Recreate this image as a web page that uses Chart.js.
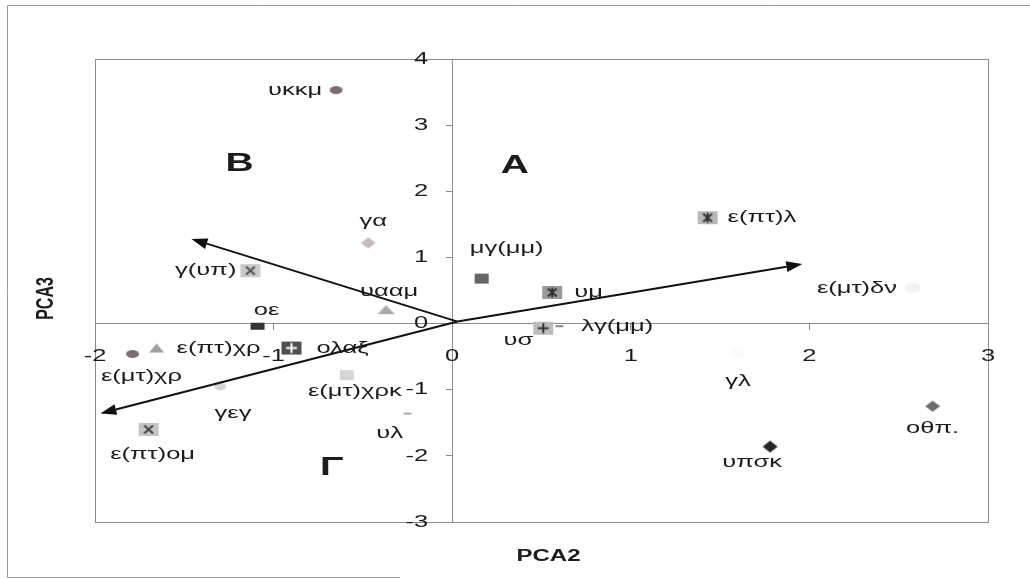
<!DOCTYPE html>
<html>
<head>
<meta charset="utf-8">
<script src="https://cdn.jsdelivr.net/npm/chart.js@4"></script>
<style>
  body { margin: 0; background: #fff; }
  #wrap { width: 1030px; height: 579px; }
</style>
</head>
<body>
<div id="wrap"><canvas id="pca"></canvas></div>
<script>
'use strict';

// scores on the 2nd and 3rd principal components
let names = ['υκκμ', 'γα', 'γ(υπ)', 'υααμ', 'οε', 'ε(πτ)χρ', 'ε(μτ)χρ', 'ολαξ', 'ε(μτ)χρκ', 'γεγ',
  'υλ', 'ε(πτ)ομ', 'μγ(μμ)', 'υμ', 'υσ', 'λγ(μμ)', 'ε(πτ)λ', 'ε(μτ)δν', 'γλ', 'οθπ.', 'υπσκ'];
let pca2 = [-0.65, -0.47, -1.13, -0.37, -1.09, -1.655, -1.79, -0.90, -0.59, -1.30,
  -0.25, -1.70, 0.165, 0.56, 0.51, 0.60, 1.43, 2.58, 1.60, 2.69, 1.78];
let pca3 = [3.53, 1.22, 0.80, 0.21, -0.04, -0.37, -0.46, -0.37, -0.78, -0.95,
  -1.36, -1.60, 0.68, 0.47, -0.07, -0.04, 1.60, 0.54, -0.45, -1.25, -1.86];

let xTicks = [-2, -1, 0, 1, 2, 3];
let yTicks = [-3, -2, -1, 0, 1, 2, 3, 4];

// variable loadings drawn as arrows from the origin
let arrowX = [-1.46, 1.96, -1.97];
let arrowY = [1.28, 0.90, -1.36];

// quadrant names
let quadNames = ['A', 'B', 'Γ'];
let quadX = [0.35, -1.19, -0.675];
let quadY = [2.39, 2.42, -2.18];

// text is drawn a bit wider than normal
const SX = 1.5;
const FONT = '"Liberation Sans", Arial, sans-serif';

// where each name sits next to its point: align, dx, dy
let labelPos = [
  ['r', -14, 0], ['c', 5, -22], ['r', -14, 0], ['c', 3, -18], ['c', 9, -16],
  ['l', 20, 0], ['c', 9, 22], ['l', 25, 0], ['c', 8, 16], ['c', 13, 27],
  ['c', -18, 20], ['c', 4, 25], ['c', 25, -30], ['l', 22, 0], ['c', -25, 12],
  ['l', 22, 0], ['l', 20, 0], ['r', -16, 0], ['c', 0, 28], ['c', 0, 22], ['c', -18, 16]
];

function mark(kind, w, h, fg, bg) {
  let c = document.createElement('canvas');
  c.width = w + 2;
  c.height = h + 2;
  let g = c.getContext('2d');
  let cx = c.width / 2, cy = c.height / 2;
  g.fillStyle = fg;
  g.strokeStyle = fg;
  g.lineWidth = 2;
  if (bg) {
    g.fillStyle = bg;
    g.fillRect(1, 1, w, h);
    g.fillStyle = fg;
  }
  let a = w * 0.22, b = h * 0.3;
  if (kind === 'dot') {
    g.beginPath();
    g.ellipse(cx, cy, w / 2, h / 2, 0, 0, Math.PI * 2);
    g.fill();
  } else if (kind === 'diamond') {
    g.beginPath();
    g.moveTo(cx, 1); g.lineTo(cx + w / 2, cy); g.lineTo(cx, h + 1); g.lineTo(cx - w / 2, cy);
    g.closePath();
    g.fill();
  } else if (kind === 'tri') {
    g.beginPath();
    g.moveTo(cx, 1); g.lineTo(w + 1, h + 1); g.lineTo(1, h + 1);
    g.closePath();
    g.fill();
  } else if (kind === 'rect') {
    g.fillRect(1, 1, w, h);
  } else if (kind === 'x') {
    g.beginPath();
    g.moveTo(cx - a, cy - b); g.lineTo(cx + a, cy + b);
    g.moveTo(cx + a, cy - b); g.lineTo(cx - a, cy + b);
    g.stroke();
  } else if (kind === 'star') {
    g.beginPath();
    g.moveTo(cx - a, cy - b); g.lineTo(cx + a, cy + b);
    g.moveTo(cx + a, cy - b); g.lineTo(cx - a, cy + b);
    g.moveTo(cx, cy - b - 1); g.lineTo(cx, cy + b + 1);
    g.stroke();
  } else if (kind === 'plus') {
    g.beginPath();
    g.moveTo(cx - a - 1, cy); g.lineTo(cx + a + 1, cy);
    g.moveTo(cx, cy - b - 1); g.lineTo(cx, cy + b + 1);
    g.stroke();
  }
  return c;
}

let markers = [
  mark('dot', 13, 8, '#7b6e6e'),
  mark('diamond', 15, 11, '#c4bcbc'),
  mark('x', 20, 13, '#555', '#c9c9c9'),
  mark('tri', 17, 9, '#a9a9a9'),
  mark('rect', 14, 7, '#333'),
  mark('tri', 15, 9, '#9f9f9f'),
  mark('dot', 13, 8, '#7d6f6f'),
  mark('plus', 20, 13, '#fff', '#505050'),
  mark('rect', 14, 10, '#d6d6d6'),
  mark('dot', 12, 8, '#d3d3d3'),
  mark('rect', 8, 2, '#aaa'),
  mark('x', 20, 13, '#444', '#c4c4c4'),
  mark('rect', 14, 10, '#666'),
  mark('star', 20, 13, '#333', '#9a9a9a'),
  mark('plus', 20, 13, '#333', '#bdbdbd'),
  mark('rect', 8, 2, '#888'),
  mark('star', 20, 13, '#333', '#b8b8b8'),
  mark('dot', 15, 10, '#f1f1f1'),
  mark('dot', 15, 10, '#fafafa'),
  mark('diamond', 15, 11, '#6e6e6e'),
  mark('diamond', 15, 12, '#262626')
];

function wideText(ctx, txt, x, y, align) {
  ctx.save();
  ctx.translate(x, y);
  ctx.scale(SX, 1);
  ctx.textAlign = align;
  ctx.fillText(txt, 0, 0);
  ctx.restore();
}

function arrow(ctx, x0, y0, x1, y1) {
  let ang = Math.atan2(y1 - y0, x1 - x0);
  let len = 16, half = 5.5;
  let bx = x1 - Math.cos(ang) * len, by = y1 - Math.sin(ang) * len;
  ctx.beginPath();
  ctx.moveTo(x0, y0);
  ctx.lineTo(bx, by);
  ctx.stroke();
  ctx.beginPath();
  ctx.moveTo(x1, y1);
  ctx.lineTo(bx - Math.sin(ang) * half, by + Math.cos(ang) * half);
  ctx.lineTo(bx + Math.sin(ang) * half, by - Math.cos(ang) * half);
  ctx.closePath();
  ctx.fill();
}

let extras = {
  id: 'extras',
  beforeDraw(chart) {
    let ctx = chart.ctx;
    let a = chart.chartArea;
    ctx.save();
    ctx.fillStyle = '#fff';
    ctx.fillRect(0, 0, chart.width, chart.height);
    // outer frame
    ctx.strokeStyle = '#9a9a9a';
    ctx.lineWidth = 1;
    ctx.beginPath();
    ctx.moveTo(1030, 5.5); ctx.lineTo(7.5, 5.5); ctx.lineTo(7.5, 577.5); ctx.lineTo(400, 577.5);
    ctx.stroke();
    // plot frame
    ctx.strokeStyle = '#8c8c8c';
    ctx.strokeRect(Math.round(a.left) + 0.5, Math.round(a.top) + 0.5,
      Math.round(a.right - a.left), Math.round(a.bottom - a.top));
    ctx.restore();
  },
  afterDatasetsDraw(chart) {
    let ctx = chart.ctx;
    let xs = chart.scales.x, ys = chart.scales.y;
    let pts = chart.getDatasetMeta(0).data;
    ctx.save();
    ctx.fillStyle = '#1c1c1c';
    ctx.textBaseline = 'middle';

    // tick labels
    ctx.font = '17px ' + FONT;
    let x0 = xs.getPixelForValue(0), y0 = ys.getPixelForValue(0);
    xs.ticks.forEach(t => wideText(ctx, String(t.value), xs.getPixelForValue(t.value), y0 + 33, 'center'));
    ys.ticks.forEach(t => wideText(ctx, String(t.value), x0 - 24, ys.getPixelForValue(t.value), 'right'));

    // point names
    ctx.font = '17px ' + FONT;
    pts.forEach((p, i) => {
      let [al, dx, dy] = labelPos[i];
      let align = al === 'l' ? 'left' : al === 'r' ? 'right' : 'center';
      wideText(ctx, names[i], p.x + dx, p.y + dy, align);
    });

    // quadrant letters
    ctx.font = 'bold 26px ' + FONT;
    quadNames.forEach((q, i) => wideText(ctx, q, xs.getPixelForValue(quadX[i]), ys.getPixelForValue(quadY[i]), 'center'));

    // axis titles
    ctx.font = 'bold 16px ' + FONT;
    wideText(ctx, 'PCA2', (xs.left + xs.right) / 2 + 7, 557, 'center');
    ctx.save();
    ctx.translate(46, (ys.top + ys.bottom) / 2 + 8);
    ctx.scale(SX, 1);
    ctx.rotate(-Math.PI / 2);
    ctx.textAlign = 'center';
    ctx.fillText('PCA3', 0, 0);
    ctx.restore();

    // loading arrows
    ctx.strokeStyle = '#111';
    ctx.fillStyle = '#111';
    ctx.lineWidth = 2;
    let ox = xs.getPixelForValue(0.03), oy = ys.getPixelForValue(0.03);
    arrowX.forEach((v, i) => arrow(ctx, ox, oy, xs.getPixelForValue(v), ys.getPixelForValue(arrowY[i])));
    ctx.restore();
  }
};

let axisGrid = { drawOnChartArea: false, color: '#8c8c8c', tickLength: 6 };

new Chart(document.getElementById('pca'), {
  type: 'scatter',
  data: {
    datasets: [{
      data: names.map((n, i) => ({ x: pca2[i], y: pca3[i] })),
      pointStyle: ctx => markers[ctx.dataIndex],
      pointRadius: 5,
      pointHoverRadius: 5
    }]
  },
  options: {
    responsive: true,
    maintainAspectRatio: false,
    animation: false,
    layout: { padding: { left: 95, right: 42, top: 59, bottom: 57 } },
    plugins: { legend: { display: false }, tooltip: { enabled: false } },
    scales: {
      x: {
        type: 'linear', min: -2, max: 3,
        position: { y: 0 },
        afterBuildTicks: s => { s.ticks = xTicks.map(v => ({ value: v })); },
        ticks: { display: false },
        grid: axisGrid,
        border: { color: '#8c8c8c' }
      },
      y: {
        type: 'linear', min: -3, max: 4,
        position: { x: 0 },
        afterBuildTicks: s => { s.ticks = yTicks.map(v => ({ value: v })); },
        ticks: { display: false },
        grid: axisGrid,
        border: { color: '#8c8c8c' }
      }
    }
  },
  plugins: [extras]
});
</script>
</body>
</html>
